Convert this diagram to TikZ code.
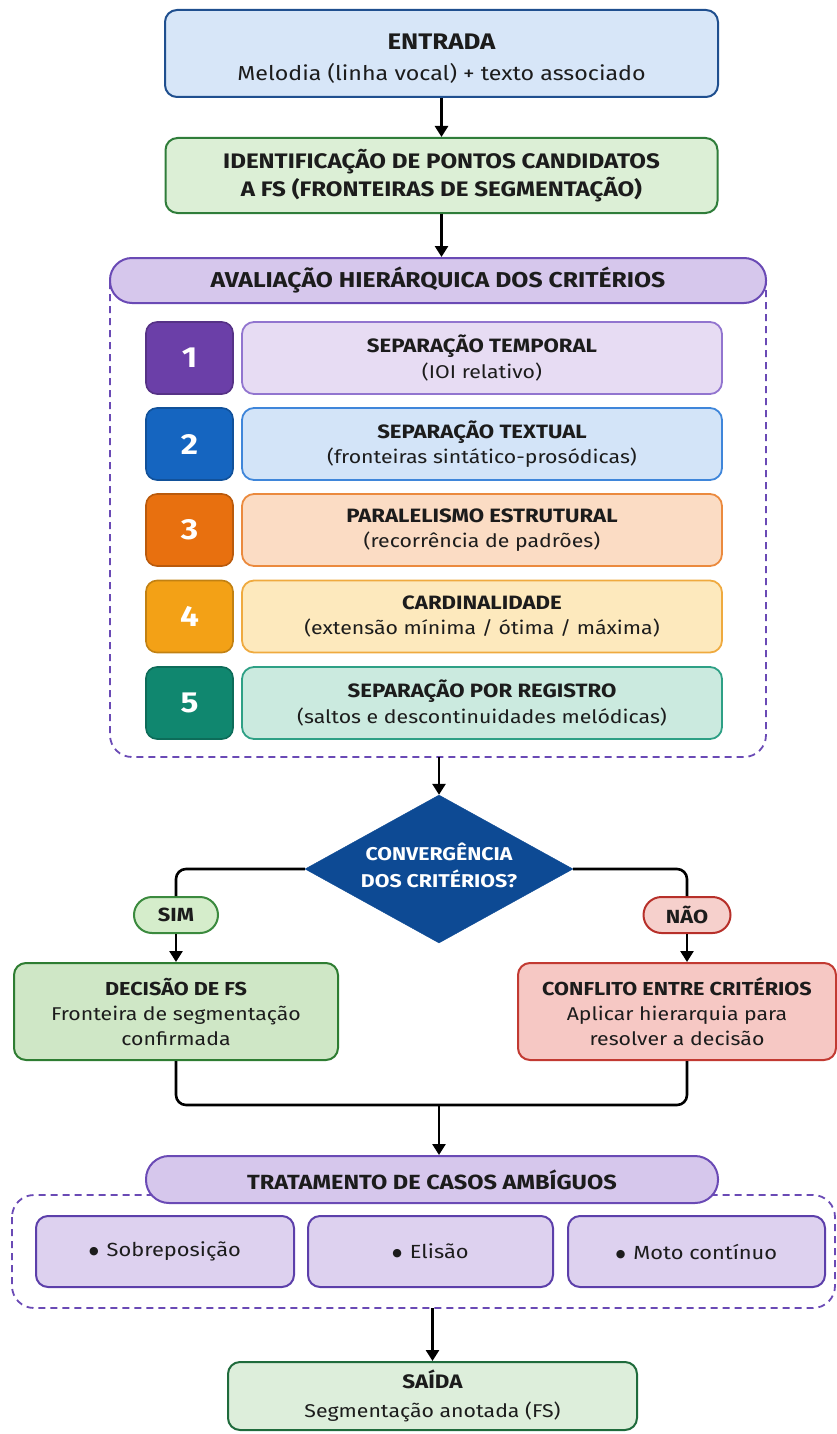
\documentclass[tikz,border=0pt]{standalone}
\usepackage{fontspec}
\setmainfont{Fira Sans}[FakeStretch=1.15]
\newfontfamily\symfont{DejaVu Sans}
\usetikzlibrary{shapes.geometric,arrows.meta}

\definecolor{ink}{HTML}{1C1C1C}
\definecolor{entF}{HTML}{D7E6F8}\definecolor{entB}{HTML}{1F4F8F}
\definecolor{idF}{HTML}{DCEFD6}\definecolor{idB}{HTML}{2F7D3A}
\definecolor{hdrF}{HTML}{D6C7EC}\definecolor{hdrB}{HTML}{6A4AB5}
\definecolor{dashC}{HTML}{6A4AB5}
\definecolor{kA}{HTML}{6B3FA8}\definecolor{fA}{HTML}{E7DCF3}\definecolor{bA}{HTML}{9275CF}
\definecolor{kB}{HTML}{1565C0}\definecolor{fB}{HTML}{D3E4F8}\definecolor{bB}{HTML}{3F86DA}
\definecolor{kC}{HTML}{E8700F}\definecolor{fC}{HTML}{FBDCC4}\definecolor{bC}{HTML}{EB8A3E}
\definecolor{kD}{HTML}{F3A116}\definecolor{fD}{HTML}{FDE9BD}\definecolor{bD}{HTML}{EFAA3F}
\definecolor{kE}{HTML}{10876F}\definecolor{fE}{HTML}{CBEADF}\definecolor{bE}{HTML}{2EA085}
\definecolor{diaF}{HTML}{0D4A94}
\definecolor{simF}{HTML}{D5EDCB}\definecolor{simB}{HTML}{3B8A3E}
\definecolor{naoF}{HTML}{F6D0CC}\definecolor{naoB}{HTML}{B7302A}
\definecolor{decF}{HTML}{CFE7C6}\definecolor{decB}{HTML}{2E7D32}
\definecolor{confF}{HTML}{F6C8C4}\definecolor{confB}{HTML}{C23A32}
\definecolor{subF}{HTML}{DDD1EF}\definecolor{subB}{HTML}{5C3FAA}
\definecolor{outF}{HTML}{DDEEDB}\definecolor{outB}{HTML}{1F6B3C}

\newcommand{\fsz}[2]{\fontsize{#1}{#2}\selectfont}
\newcommand{\dotmark}{\raisebox{2pt}{\symfont\fsz{11}{10}●}\hspace{8pt}}

\begin{document}
\begin{tikzpicture}[x=1pt,y=-1pt,
  box/.style={draw, line width=2pt, rounded corners=12pt, align=center, inner sep=0pt, text=ink},
  pill/.style={box, rounded corners=#1},
  numbox/.style={draw, line width=1.6pt, rounded corners=11pt, text=white, inner sep=0pt,
    minimum width=87pt, minimum height=72pt, font=\fsz{29}{30}\bfseries},
  critbox/.style={box, line width=1.8pt, minimum width=480pt, minimum height=72pt, font=\fsz{18.5}{25.5}},
  subbox/.style={box, fill=subF, draw=subB, minimum height=71pt, font=\fsz{19}{20}},
  arrow/.style={line width=2.6pt, draw=black, -{Triangle[length=11pt,width=13pt]}},
  link/.style={line width=2.6pt, draw=black, rounded corners=10pt},
  frame/.style={draw=dashC, line width=1.8pt, dash pattern=on 7pt off 5pt, rounded corners=22pt}]

\useasboundingbox (0,0) rectangle (837,1434);

% input and candidate points
\node[box, fill=entF, draw=entB, minimum width=553pt, minimum height=87pt, font=\fsz{20.2}{31}] (in) at (441.5,53.5)
  {\rule{0pt}{25pt}{\fsz{22.5}{31}\bfseries ENTRADA}\\ Melodia (linha vocal) + texto associado};
\node[box, fill=idF, draw=idB, minimum width=552pt, minimum height=75pt, font=\fsz{21}{28}\bfseries] (id) at (441.5,175.5)
  {\rule{0pt}{20pt}IDENTIFICAÇÃO DE PONTOS CANDIDATOS\\ A FS (FRONTEIRAS DE SEGMENTAÇÃO)};
\draw[arrow] (in.south) -- (id.north);

% hierarchical evaluation block
\draw[frame] (110,282) -- (110,757) -- (766,757) -- (766,282);
\node[pill=22pt, fill=hdrF, draw=hdrB, minimum width=656pt, minimum height=45pt, font=\fsz{21.5}{24}\bfseries] (hdr1) at (438,280.5)
  {AVALIAÇÃO HIERÁRQUICA DOS CRITÉRIOS};
\draw[arrow] (id.south) -- (id.south |- hdr1.north);

\node[numbox, fill=kA, draw=kA!80!black] (n1) at (189.5,358) {1};
\node[critbox, fill=fA, draw=bA] (k1) at (482,358)
  {{\fsz{19.3}{25.5}\bfseries SEPARAÇÃO TEMPORAL}\\ (IOI relativo)};
\node[numbox, fill=kB, draw=kB!80!black] (n2) at (189.5,444) {2};
\node[critbox, fill=fB, draw=bB] (k2) at (482,444)
  {{\fsz{19.3}{25.5}\bfseries SEPARAÇÃO TEXTUAL}\\ (fronteiras sintático-prosódicas)};
\node[numbox, fill=kC, draw=kC!80!black] (n3) at (189.5,530) {3};
\node[critbox, fill=fC, draw=bC] (k3) at (482,530)
  {{\fsz{19.3}{25.5}\bfseries PARALELISMO ESTRUTURAL}\\ (recorrência de padrões)};
\node[numbox, fill=kD, draw=kD!80!black] (n4) at (189.5,616.5) {4};
\node[critbox, fill=fD, draw=bD] (k4) at (482,616.5)
  {{\fsz{19.3}{25.5}\bfseries CARDINALIDADE}\\ (extensão mínima / ótima / máxima)};
\node[numbox, fill=kE, draw=kE!80!black] (n5) at (189.5,703) {5};
\node[critbox, fill=fE, draw=bE] (k5) at (482,703)
  {{\fsz{19.3}{25.5}\bfseries SEPARAÇÃO POR REGISTRO}\\ (saltos e descontinuidades melódicas)};

% decision: the diamond is drawn empty, its question set on top
\coordinate (c1) at (439,757);
\node[diamond, fill=diaF, draw=diaF, inner sep=0pt, minimum width=268pt, minimum height=148pt] (dia) at (439,869) {};
\node[text=white, align=center, inner sep=0pt, font=\fsz{18.5}{27}\bfseries] (qtxt) at (439,865)
  {CONVERGÊNCIA\\ DOS CRITÉRIOS?};
\draw[arrow] (c1) -- (dia.north);

\node[pill=18pt, fill=simF, draw=simB, minimum width=84pt, minimum height=36pt, font=\fsz{19}{20}\bfseries] (sim) at (176,915) {SIM};
\node[pill=18pt, fill=naoF, draw=naoB, minimum width=87pt, minimum height=36pt, font=\fsz{19}{20}\bfseries] (nao) at (687,915) {NÃO};
\draw[link] (dia.west) -| (sim.north);
\draw[link] (dia.east) -| (nao.north);

\node[box, fill=decF, draw=decB, minimum width=324pt, minimum height=97pt, font=\fsz{18.5}{25}] (dec) at (176,1011.5)
  {{\fsz{18.8}{25}\bfseries DECISÃO DE FS}\\ Fronteira de segmentação\\ confirmada};
\node[box, fill=confF, draw=confB, minimum width=318pt, minimum height=97pt, font=\fsz{18.5}{25}] (conf) at (677,1011.5)
  {{\fsz{18.8}{25}\bfseries CONFLITO ENTRE CRITÉRIOS}\\ Aplicar hierarquia para\\ resolver a decisão};
\draw[arrow] (sim.south) -- (sim.south |- dec.north);
\draw[arrow] (nao.south) -- (nao.south |- conf.north);

\coordinate (m) at (439,1105);
\draw[link] (dec.south) |- (m) -| (nao.south |- conf.south);

% ambiguous cases
\draw[frame] (12,1195) rectangle (835,1308);
\node[pill=23pt, fill=hdrF, draw=hdrB, minimum width=572pt, minimum height=47pt, font=\fsz{20.5}{24}\bfseries] (hdr2) at (432,1179.5)
  {TRATAMENTO DE CASOS AMBÍGUOS};
\draw[arrow] (m) -- (m |- hdr2.north);

\node[subbox, minimum width=258pt] (s1) at (165,1251.5) {\dotmark Sobreposição};
\node[subbox, minimum width=245pt] (s2) at (430.5,1251.5) {\dotmark Elisão};
\node[subbox, minimum width=257pt] (s3) at (696.5,1251.5) {\dotmark Moto contínuo};

% output
\node[box, fill=outF, draw=outB, minimum width=409pt, minimum height=68pt, font=\fsz{18.5}{29}] (out) at (432.5,1396)
  {{\fsz{19.5}{29}\bfseries SAÍDA}\\ Segmentação anotada (FS)};
\coordinate (c2) at (out.north |- 0,1308);
\draw[arrow] (c2) -- (out.north);

\end{tikzpicture}
\end{document}
